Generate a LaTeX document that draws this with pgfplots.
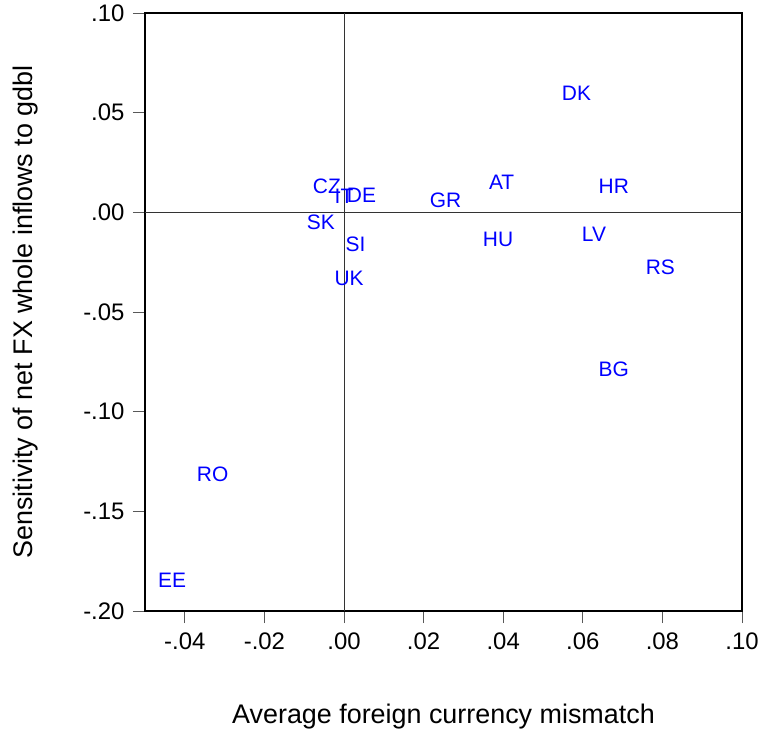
\documentclass[border=0pt]{standalone}
\usepackage{pgfplots}
\pgfplotsset{compat=1.18}
\usepackage{fontspec}
\setmainfont{Liberation Sans}
\begin{document}
\begin{tikzpicture}
\begin{axis}[
  scale only axis,
  width=597bp, height=598bp,
  xmin=-0.05, xmax=0.10, ymin=-0.20, ymax=0.10,
  axis line style={black, line width=1.2bp},
  tick align=outside,
  major tick length=12bp,
  tick style={black!65, line width=0.9bp},
  xtick={-0.04,-0.02,0,0.02,0.04,0.06,0.08,0.10},
  xticklabels={-.04,-.02,.00,.02,.04,.06,.08,.10},
  ytick={-0.20,-0.15,-0.10,-0.05,0,0.05,0.10},
  yticklabels={-.20,-.15,-.10,-.05,.00,.05,.10},
  xtick pos=bottom, ytick pos=left,
  ticklabel style={font=\fontsize{24}{24}\selectfont},
  xticklabel style={yshift=-6bp},
  yticklabel style={xshift=-5bp},
  xlabel={Average foreign currency mismatch},
  ylabel={Sensitivity of net FX whole inflows to gdbl},
  label style={font=\fontsize{27}{27}\selectfont},
  xlabel style={at={(axis description cs:0.5,-0.1764)}, anchor=center},
  ylabel style={at={(axis description cs:-0.1993,0.5)}, anchor=center},
  clip=false,
]
\addplot[black!80, line width=0.8bp] coordinates {(0,-0.20) (0,0.10)};
\addplot[black!80, line width=0.8bp] coordinates {(-0.05,0) (0.10,0)};
\addplot[draw=none, mark=none, nodes near coords, point meta=explicit symbolic,
  every node near coord/.style={anchor=center, inner sep=0pt, text=blue, font=\fontsize{21}{21}\selectfont}]
  table[meta=label] {
x y label
0.0584 0.0595 DK
-0.0043 0.0130 CZ
0.0000 0.0080 IT
0.0044 0.0085 DE
-0.0058 -0.0048 SK
0.0029 -0.0158 SI
0.0013 -0.0329 UK
0.0255 0.0060 GR
0.0396 0.0151 AT
0.0387 -0.0135 HU
0.0678 0.0133 HR
0.0628 -0.0108 LV
0.0795 -0.0278 RS
0.0678 -0.0788 BG
-0.0330 -0.1315 RO
-0.0432 -0.1846 EE
};
\end{axis}
\pgfresetboundingbox
\path (-145bp,-121bp) rectangle (616bp,611bp);
\end{tikzpicture}
\end{document}
